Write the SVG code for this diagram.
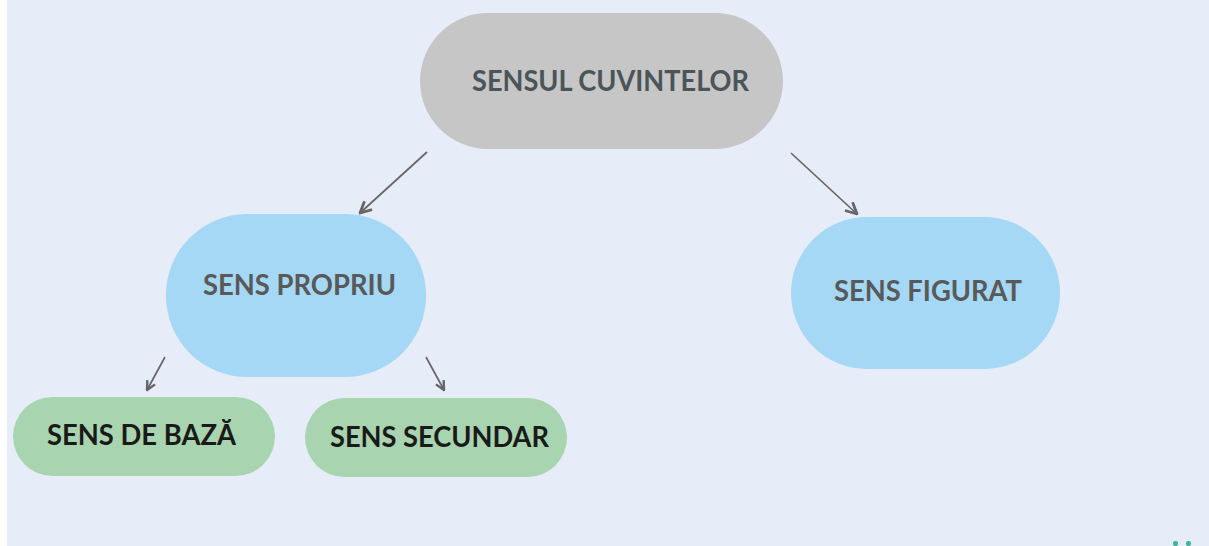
<svg xmlns="http://www.w3.org/2000/svg" width="1209" height="546" viewBox="0 0 1209 546">
<style>
.t{font-family:Lato,"Open Sans","Liberation Sans",sans-serif;font-weight:bold;text-anchor:start}
.big{font-size:29px}
.mid{font-size:28px}
.conn{stroke:#666666;stroke-width:1.7;fill:none}
</style>
<defs>
<marker id="ah" viewBox="0 0 10 10" refX="9" refY="5" markerWidth="14" markerHeight="14" markerUnits="userSpaceOnUse" orient="auto">
<path d="M1,1 L9,5 L1,9" fill="none" stroke="#666666" stroke-width="2"/>
</marker>
<marker id="ahs" viewBox="0 0 10 10" refX="9" refY="5" markerWidth="11" markerHeight="11" markerUnits="userSpaceOnUse" orient="auto">
<path d="M1,1 L9,5 L1,9" fill="none" stroke="#666666" stroke-width="2.2"/>
</marker>
</defs>
<rect x="0" y="0" width="1209" height="546" fill="#ffffff"/>
<rect x="7" y="0" width="1202" height="546" fill="#E6ECF8"/>
<g id="bits" fill="#3FB59B">
<rect x="1173" y="541" width="5" height="5" rx="2"/>
<rect x="1186" y="541" width="5" height="5" rx="2"/>
</g>
<g id="connectors">
<line class="conn" x1="427" y1="152" x2="360" y2="213" marker-end="url(#ah)"/>
<line class="conn" x1="791" y1="153" x2="857" y2="214" marker-end="url(#ah)"/>
<line class="conn" x1="165" y1="357" x2="147" y2="390" marker-end="url(#ahs)"/>
<line class="conn" x1="426" y1="357" x2="444" y2="390" marker-end="url(#ahs)"/>
</g>
<g id="n-root">
<rect x="420" y="13" width="363" height="136" rx="68" fill="#C6C6C6"/>
<text class="t big" x="472" y="91" fill="#4A5459" textLength="277" lengthAdjust="spacingAndGlyphs">SENSUL CUVINTELOR</text>
</g>
<g id="n-propriu">
<rect x="166" y="214" width="260" height="163" rx="81" fill="#A4D8F4"/>
<text class="t mid" x="203" y="295" fill="#595959" textLength="193" lengthAdjust="spacingAndGlyphs">SENS PROPRIU</text>
</g>
<g id="n-figurat">
<rect x="791" y="217" width="269" height="152" rx="76" fill="#A4D8F4"/>
<text class="t mid" x="834" y="301" fill="#595959" textLength="188" lengthAdjust="spacingAndGlyphs">SENS FIGURAT</text>
</g>
<g id="n-baza">
<rect x="13" y="397" width="262" height="79" rx="39.5" fill="#A8D4AF"/>
<text class="t mid" x="47" y="445" fill="#1A1A1A" textLength="189" lengthAdjust="spacingAndGlyphs">SENS DE BAZĂ</text>
</g>
<g id="n-secundar">
<rect x="305" y="398" width="262" height="79" rx="39.5" fill="#A8D4AF"/>
<text class="t mid" x="330" y="447" fill="#1A1A1A" textLength="219" lengthAdjust="spacingAndGlyphs">SENS SECUNDAR</text>
</g>
</svg>
